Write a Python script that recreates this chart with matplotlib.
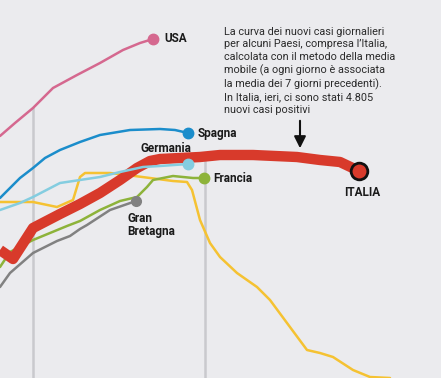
import matplotlib
matplotlib.use("Agg")
import matplotlib.pyplot as plt

# Data (x: day position, y: chart value, y grows downward)
usa_x = [0, 15, 33, 53, 77, 100, 123, 140, 153]
usa_y = [136, 123, 108, 88, 75, 63, 50, 43, 39]

spagna_x = [0, 10, 20, 33, 45, 60, 80, 100, 130, 160, 175, 188]
spagna_y = [198, 188, 178, 168, 158, 150, 142, 135, 130, 129, 130, 133]

germania_x = [0, 20, 33, 60, 80, 100, 120, 143, 160, 188]
germania_y = [210, 203, 197, 183, 180, 177, 172, 167, 166, 164]

francia_x = [0, 10, 33, 67, 80, 100, 120, 137, 147, 153, 173, 193, 204]
francia_y = [267, 252, 240, 226, 221, 210, 201, 197, 187, 180, 176, 178, 178]

gb_x = [0, 10, 33, 57, 70, 80, 87, 110, 136]
gb_y = [287, 273, 253, 241, 236, 229, 225, 210, 201]

italia_x = [0, 13, 33, 60, 80, 100, 120, 137, 150, 160, 200, 220, 253, 297, 320, 340, 359]
italia_y = [250, 259, 228, 214, 204, 193, 180, 168, 161, 159, 157, 155, 155, 157, 160, 162, 171]

giallo_x = [0, 33, 57, 73, 80, 85, 110, 127, 150, 173, 187, 192, 200, 210, 220,
            237, 257, 270, 287, 307, 320, 333, 353, 370, 390]
giallo_y = [202, 202, 207, 200, 177, 173, 173, 175, 178, 181, 182, 190, 220, 243, 257,
            273, 287, 300, 323, 350, 353, 357, 370, 377, 378]

grid_x = [33, 205]
grid_top = [108, 158]

note = ("La curva dei nuovi casi giornalieri\n"
        "per alcuni Paesi, compresa l\u2019Italia,\n"
        "calcolata con il metodo della media\n"
        "mobile (a ogni giorno \u00e8 associata\n"
        "la media dei 7 giorni precedenti).\n"
        "In Italia, ieri, ci sono stati 4.805\n"
        "nuovi casi positivi")

bg = "#ebebee"
fig = plt.figure(figsize=(4.41, 3.78), dpi=100, facecolor=bg)
ax = fig.add_axes([0, 0, 1, 1])
ax.set_facecolor(bg)
ax.set_xlim(0, 441)
ax.set_ylim(378, 0)
ax.axis("off")

for gx, gt in zip(grid_x, grid_top):
    ax.plot([gx, gx], [gt, 378], color="#c9c9cd", lw=1.8, zorder=1)

kw = dict(solid_capstyle="round", solid_joinstyle="round", zorder=3)
ax.plot(giallo_x, giallo_y, color="#f5c232", lw=1.8, **kw)
ax.plot(gb_x, gb_y, color="#818181", lw=1.8, **kw)
ax.plot(francia_x, francia_y, color="#8db33a", lw=1.8, **kw)
ax.plot(italia_x, italia_y, color="#d83a2b", lw=7.5, solid_capstyle="butt",
        solid_joinstyle="round", zorder=4)
ax.plot(germania_x, germania_y, color="#84cde0", lw=1.8, solid_capstyle="round",
        solid_joinstyle="round", zorder=5)
ax.plot(spagna_x, spagna_y, color="#1b8dcb", lw=1.8, **kw)
ax.plot(usa_x, usa_y, color="#d5688f", lw=1.8, **kw)

ax.plot(usa_x[-1], usa_y[-1], "o", ms=7.5, color="#d5688f", zorder=6)
ax.plot(spagna_x[-1], spagna_y[-1], "o", ms=7.5, color="#1b8dcb", zorder=6)
ax.plot(germania_x[-1], germania_y[-1], "o", ms=7.5, color="#84cde0", zorder=6)
ax.plot(francia_x[-1], francia_y[-1], "o", ms=7.5, color="#8db33a", zorder=6)
ax.plot(gb_x[-1], gb_y[-1], "o", ms=7, color="#818181", zorder=6)
ax.plot(italia_x[-1], italia_y[-1], "o", ms=12, color="#d83a2b",
        markeredgecolor="#111111", markeredgewidth=2, zorder=7)

lab = dict(fontfamily="Roboto", fontweight="bold", fontsize=8.5, color="#1a1a1a",
           va="center", zorder=8)
ax.text(164, 39, "USA", ha="left", **lab)
ax.text(198, 133, "Spagna", ha="left", **lab)
ax.text(166, 149, "Germania", ha="center", **lab)
ax.text(213, 178, "Francia", ha="left", **lab)
ax.text(362, 193, "ITALIA", ha="center", **lab)
ax.text(127, 225, "Gran\nBretagna", ha="left", linespacing=1.1, **lab)

ax.text(224, 27, note, ha="left", va="top", fontfamily="Roboto", fontsize=7.8,
        color="#2b2b2b", linespacing=1.3, zorder=8)

ax.annotate("", xy=(300, 151), xytext=(300, 118),
            arrowprops=dict(arrowstyle="-|>,head_width=0.35,head_length=0.7",
                            color="#111111", lw=1.5), zorder=8)

fig.savefig("out.png", dpi=100, facecolor=bg)
